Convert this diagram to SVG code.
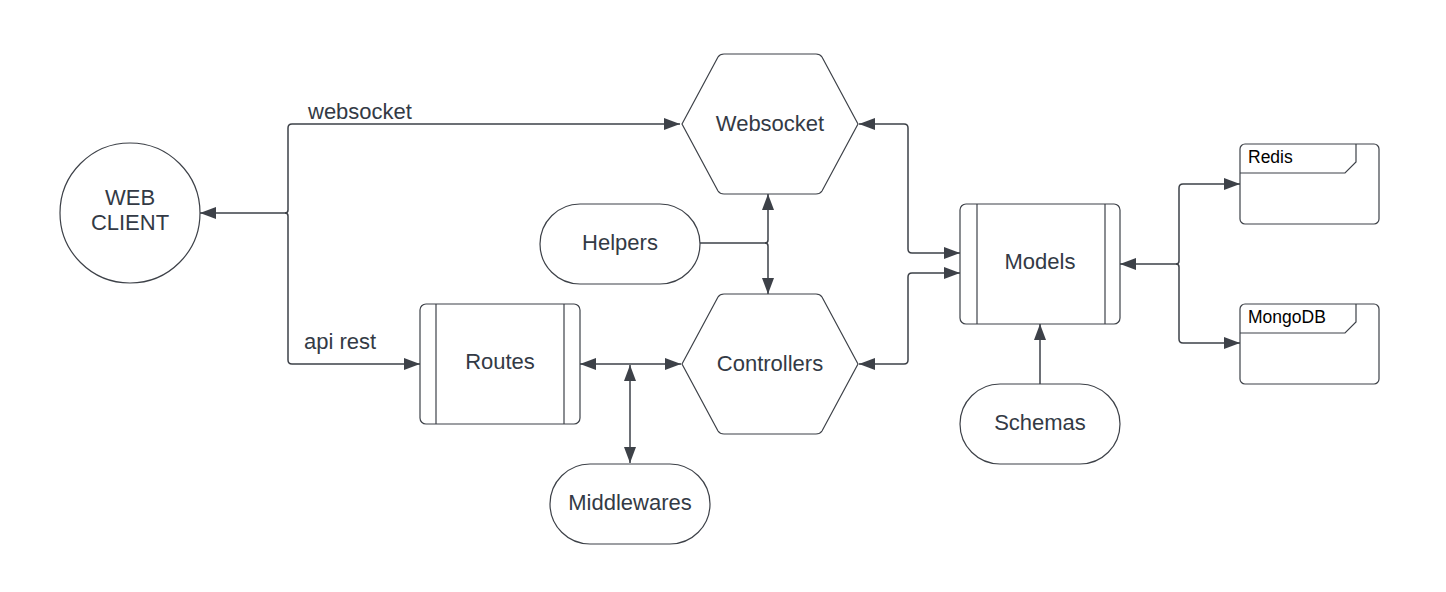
<svg xmlns="http://www.w3.org/2000/svg" width="1446" height="592" viewBox="0 0 1446 592">
<style>
.shape{fill:#fff;stroke:#3d4148;stroke-width:1.2}
.line{fill:none;stroke:#3d4148;stroke-width:1.5}
.lbl{font-family:"Liberation Sans",Arial,sans-serif;font-size:22px;fill:#333a45;text-anchor:middle}
.elbl{font-family:"Liberation Sans",Arial,sans-serif;font-size:22px;fill:#333a45}
.small{font-family:"Liberation Sans",Arial,sans-serif;font-size:17.5px;fill:#000}
</style>
<defs>
<marker id="arr" viewBox="0 0 16 12" refX="16" refY="6" markerWidth="16" markerHeight="12" markerUnits="userSpaceOnUse" orient="auto-start-reverse">
<path d="M0,0 L16,6 L0,12 Z" fill="#3d4148"/>
</marker>
</defs>
<rect width="1446" height="592" fill="#fff"/>

<g id="connectors">
<path class="line" d="M200,213 H285 q3,0 3,-3 V128 q0,-4 4,-4 H680" marker-start="url(#arr)" marker-end="url(#arr)"/>
<path class="line" d="M285,213 q3,0 3,3 V360 q0,4 4,4 H420" marker-end="url(#arr)"/>
<path class="line" d="M700,243 H765 q3,0 3,-3 V194" marker-end="url(#arr)"/>
<path class="line" d="M765,243 q3,0 3,3 V294" marker-end="url(#arr)"/>
<path class="line" d="M580,364 H681" marker-start="url(#arr)" marker-end="url(#arr)"/>
<path class="line" d="M630,365 V463" marker-start="url(#arr)" marker-end="url(#arr)"/>
<path class="line" d="M859,124 H904 q4,0 4,4 V249 q0,4 4,4 H960" marker-start="url(#arr)" marker-end="url(#arr)"/>
<path class="line" d="M859,364 H904 q4,0 4,-4 V277 q0,-4 4,-4 H960" marker-start="url(#arr)" marker-end="url(#arr)"/>
<path class="line" d="M1040,384 V324" marker-end="url(#arr)"/>
<path class="line" d="M1120,264 H1176 q3,0 3,-3 V188 q0,-4 4,-4 H1240" marker-start="url(#arr)" marker-end="url(#arr)"/>
<path class="line" d="M1176,264 q3,0 3,3 V339 q0,4 4,4 H1240" marker-end="url(#arr)"/>
</g>
<text class="elbl" x="308" y="119">websocket</text>
<text class="elbl" x="304" y="349">api rest</text>

<g id="web-client">
<circle class="shape" cx="130" cy="213" r="70"/>
<text class="lbl" x="130" y="205">WEB</text>
<text class="lbl" x="130" y="230">CLIENT</text>
</g>

<g id="websocket">
<path class="shape" d="M682,124 L718,57 Q720,54 724,54 H816 Q820,54 822,57 L858,124 L822,191 Q820,194 816,194 H724 Q720,194 718,191 Z"/>
<text class="lbl" x="770" y="131">Websocket</text>
</g>

<g id="controllers">
<path class="shape" d="M682,364 L718,297 Q720,294 724,294 H816 Q820,294 822,297 L858,364 L822,431 Q820,434 816,434 H724 Q720,434 718,431 Z"/>
<text class="lbl" x="770" y="371">Controllers</text>
</g>

<g id="helpers">
<rect class="shape" x="540" y="204" width="160" height="80" rx="40"/>
<text class="lbl" x="620" y="250">Helpers</text>
</g>

<g id="routes">
<rect class="shape" x="420" y="304" width="160" height="120" rx="6"/>
<line class="shape" x1="436" y1="304" x2="436" y2="424"/>
<line class="shape" x1="564" y1="304" x2="564" y2="424"/>
<text class="lbl" x="500" y="369">Routes</text>
</g>

<g id="middlewares">
<rect class="shape" x="550" y="464" width="160" height="80" rx="40"/>
<text class="lbl" x="630" y="510">Middlewares</text>
</g>

<g id="models">
<rect class="shape" x="960" y="204" width="160" height="120" rx="6"/>
<line class="shape" x1="977" y1="204" x2="977" y2="324"/>
<line class="shape" x1="1105" y1="204" x2="1105" y2="324"/>
<text class="lbl" x="1040" y="269">Models</text>
</g>

<g id="schemas">
<rect class="shape" x="960" y="384" width="160" height="80" rx="40"/>
<text class="lbl" x="1040" y="430">Schemas</text>
</g>

<g id="redis">
<rect class="shape" x="1240" y="144" width="139" height="80" rx="5"/>
<path class="line" style="stroke-width:1.2" d="M1240,173 H1345 L1356,162 V144"/>
<text class="small" x="1248" y="163">Redis</text>
</g>

<g id="mongodb">
<rect class="shape" x="1240" y="304" width="139" height="80" rx="5"/>
<path class="line" style="stroke-width:1.2" d="M1240,333 H1345 L1356,322 V304"/>
<text class="small" x="1248" y="323">MongoDB</text>
</g>
</svg>
